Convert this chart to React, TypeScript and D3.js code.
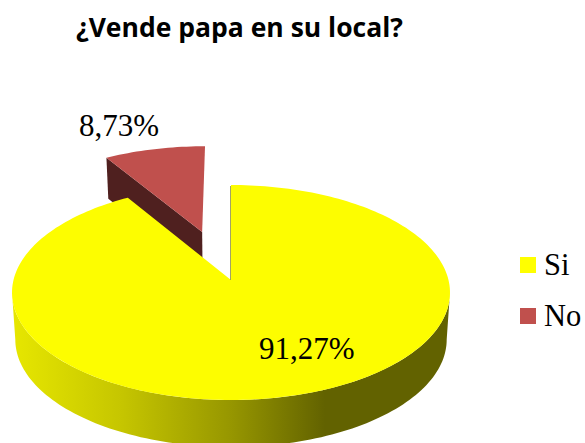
import React from "react";
import * as d3 from "d3";

const title = "¿Vende papa en su local?";
const categories = ["Si", "No"];
const values = [91.27, 8.73];
const valueLabels = ["91,27%", "8,73%"];
const colors = ["#fdfd00", "#c0504d"];
const legendColors = ["#ffff00", "#c0504d"];

const W = 585, H = 443;
const apexX = 231, apexY = 280;
const A = 217.5, B = 106.05, P = 0.1163, BOTTOM_SCALE = 0.985;
const DEPTH_SI = 47, DEPTH_NO = 41;
const explodeNo = { u: -0.14, v: 0.478 };

// perspective view of the tilted pie: disc coordinates to screen coordinates
function project(u: number, v: number, depth = 0): [number, number] {
  const w = 1 + P * v;
  const k = depth ? BOTTOM_SCALE : 1;
  return [apexX + (k * A * u) / w, apexY - (B * v) / w + depth];
}
function rim(angle: number, off = { u: 0, v: 0 }, depth = 0) {
  return project(Math.sin(angle) + off.u, Math.cos(angle) + off.v, depth);
}
function sweep(a0: number, a1: number, off = { u: 0, v: 0 }, depth = 0) {
  const n = Math.max(2, Math.ceil(Math.abs(a1 - a0) * 40));
  return d3.range(n + 1).map((i) => rim(a0 + ((a1 - a0) * i) / n, off, depth));
}

const arcs = d3.pie<number>().sort(null)(values);
const line = d3.line();

export default function App() {
  const si = arcs[0], no = arcs[1];
  const off = explodeNo;

  const siTop = line([...sweep(si.startAngle, si.endAngle), project(0, 0)]) + "Z";
  const noTop = line([project(off.u, off.v), ...sweep(no.startAngle, no.endAngle, off)]) + "Z";

  const noStart = rim(no.startAngle, off);
  const noStartLow = rim(no.startAngle, off, DEPTH_NO);
  const noApex = project(off.u, off.v);
  const noApexLow = project(off.u, off.v, DEPTH_NO);
  const noWall = line([noStart, noApex, noApexLow, noStartLow]) + "Z";

  const ext = Math.acos(-P);
  const front0 = ext, front1 = 2 * Math.PI - ext;
  const siWall =
    line([...sweep(front0, front1), ...sweep(front1, front0, { u: 0, v: 0 }, DEPTH_SI)]) + "Z";

  const legendY = [257, 308];
  const legendBase = [275, 326];

  return (
    <svg
      width={W}
      height={H}
      viewBox={`0 0 ${W} ${H}`}
      style={{ position: "absolute", left: 0, top: 0, display: "block", background: "#fff" }}
    >
      <defs>
        <linearGradient id="wallGrad" gradientUnits="userSpaceOnUse" x1={15} x2={325} y1={0} y2={0}>
          <stop offset="0" stopColor="#e6e600" />
          <stop offset="0.34" stopColor="#c6c600" />
          <stop offset="0.7" stopColor="#969600" />
          <stop offset="1" stopColor="#626200" />
        </linearGradient>
      </defs>
      <text x={76} y={37} fontFamily="'Open Sans', sans-serif" fontWeight={700} fontSize={26.5} fill="#000">
        {title}
      </text>

      <path d={noWall} fill="#4f201f" />
      <path d={noTop} fill={colors[1]} />

      <path d={siWall} fill="url(#wallGrad)" />
      <path d={siTop} fill={colors[0]} />
      <line x1={apexX - 0.5} x2={apexX - 0.5} y1={186} y2={280} stroke="#8a8a40" strokeWidth={0.8} />

      <g fontFamily="'Liberation Serif', serif" fontSize={31} fill="#000">
        <text x={259} y={359}>{valueLabels[0]}</text>
        <text x={79} y={136}>{valueLabels[1]}</text>
        {categories.map((c, i) => (
          <g key={c}>
            <rect x={520} y={legendY[i]} width={16} height={16} fill={legendColors[i]} />
            <text x={544} y={legendBase[i]} fontSize={30.5}>{c}</text>
          </g>
        ))}
      </g>
    </svg>
  );
}
